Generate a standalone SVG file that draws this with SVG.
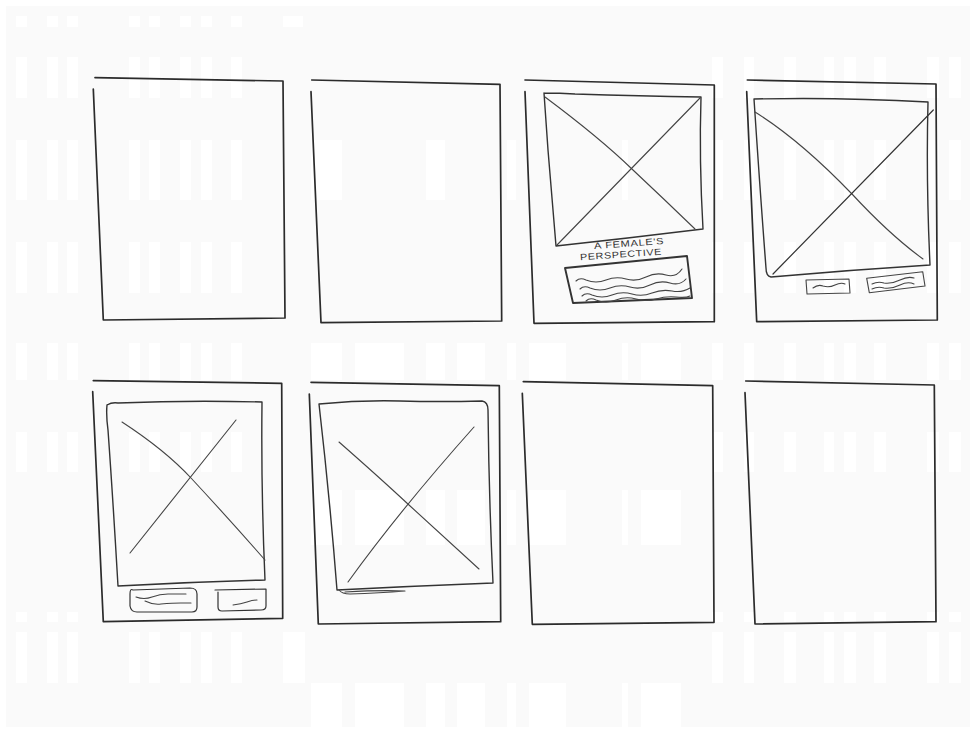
<svg xmlns="http://www.w3.org/2000/svg" width="976" height="730" viewBox="0 0 976 730">
<defs>
<style>
.bar{fill:#ffffff}
.frame{fill:none;stroke:#2b2b2b;stroke-width:1.7;stroke-linecap:round;stroke-linejoin:round}
.sk{fill:none;stroke:#333;stroke-width:1.4;stroke-linecap:round;stroke-linejoin:round}
.thin{fill:none;stroke:#444;stroke-width:1.1;stroke-linecap:round;stroke-linejoin:round}
.hand{font-family:"Liberation Sans",Arial,sans-serif;font-size:9px;fill:#333;letter-spacing:0.5px}
</style>
</defs>
<rect x="0" y="0" width="976" height="730" fill="#ffffff"/>
<rect x="6" y="6" width="964" height="721" fill="#fafafa"/>
<g id="background">
<g transform="translate(0,16)">
<rect class="bar" x="16" y="0" width="11" height="11"/><rect class="bar" x="47" y="0" width="11" height="11"/><rect class="bar" x="67" y="0" width="11" height="11"/><rect class="bar" x="129" y="0" width="11" height="11"/><rect class="bar" x="149" y="0" width="11" height="11"/><rect class="bar" x="180" y="0" width="11" height="11"/><rect class="bar" x="201" y="0" width="11" height="11"/><rect class="bar" x="231" y="0" width="11" height="11"/><rect class="bar" x="283" y="0" width="20" height="11"/>
</g>
<g transform="translate(0,57)">
<rect class="bar" x="16" y="0" width="11" height="41"/><rect class="bar" x="47" y="0" width="11" height="41"/><rect class="bar" x="67" y="0" width="11" height="41"/><rect class="bar" x="129" y="0" width="11" height="41"/><rect class="bar" x="149" y="0" width="11" height="41"/><rect class="bar" x="180" y="0" width="11" height="41"/><rect class="bar" x="201" y="0" width="11" height="41"/><rect class="bar" x="231" y="0" width="11" height="41"/>
<rect class="bar" x="712" y="0" width="11" height="41"/><rect class="bar" x="744" y="0" width="10" height="41"/><rect class="bar" x="784" y="0" width="12" height="41"/><rect class="bar" x="824" y="0" width="10" height="41"/><rect class="bar" x="844" y="0" width="12" height="41"/><rect class="bar" x="874" y="0" width="12" height="41"/><rect class="bar" x="927" y="0" width="12" height="41"/><rect class="bar" x="949" y="0" width="12" height="41"/>
</g>
<g transform="translate(0,140)">
<rect class="bar" x="16" y="0" width="11" height="60"/><rect class="bar" x="47" y="0" width="11" height="60"/><rect class="bar" x="67" y="0" width="11" height="60"/><rect class="bar" x="129" y="0" width="11" height="60"/><rect class="bar" x="149" y="0" width="11" height="60"/><rect class="bar" x="180" y="0" width="11" height="60"/><rect class="bar" x="201" y="0" width="11" height="60"/><rect class="bar" x="231" y="0" width="11" height="60"/>
<rect class="bar" x="311" y="0" width="31" height="60"/><rect class="bar" x="426" y="0" width="19" height="60"/><rect class="bar" x="507" y="0" width="9" height="60"/><rect class="bar" x="622" y="0" width="6" height="60"/>
<rect class="bar" x="712" y="0" width="11" height="60"/><rect class="bar" x="744" y="0" width="10" height="60"/><rect class="bar" x="784" y="0" width="12" height="60"/><rect class="bar" x="824" y="0" width="10" height="60"/><rect class="bar" x="844" y="0" width="12" height="60"/><rect class="bar" x="874" y="0" width="12" height="60"/><rect class="bar" x="927" y="0" width="12" height="60"/><rect class="bar" x="949" y="0" width="12" height="60"/>
</g>
<g transform="translate(0,242)">
<rect class="bar" x="16" y="0" width="11" height="51"/><rect class="bar" x="47" y="0" width="11" height="51"/><rect class="bar" x="67" y="0" width="11" height="51"/><rect class="bar" x="129" y="0" width="11" height="51"/><rect class="bar" x="149" y="0" width="11" height="51"/><rect class="bar" x="180" y="0" width="11" height="51"/><rect class="bar" x="201" y="0" width="11" height="51"/><rect class="bar" x="231" y="0" width="11" height="51"/>
<rect class="bar" x="712" y="0" width="11" height="51"/><rect class="bar" x="744" y="0" width="10" height="51"/><rect class="bar" x="784" y="0" width="12" height="51"/><rect class="bar" x="824" y="0" width="10" height="51"/><rect class="bar" x="844" y="0" width="12" height="51"/><rect class="bar" x="874" y="0" width="12" height="51"/><rect class="bar" x="927" y="0" width="12" height="51"/><rect class="bar" x="949" y="0" width="12" height="51"/>
</g>
<g transform="translate(0,343)">
<rect class="bar" x="16" y="0" width="11" height="37"/><rect class="bar" x="47" y="0" width="11" height="37"/><rect class="bar" x="67" y="0" width="11" height="37"/><rect class="bar" x="129" y="0" width="11" height="37"/><rect class="bar" x="149" y="0" width="11" height="37"/><rect class="bar" x="180" y="0" width="11" height="37"/><rect class="bar" x="201" y="0" width="11" height="37"/><rect class="bar" x="231" y="0" width="11" height="37"/>
<rect class="bar" x="311" y="0" width="31" height="37"/><rect class="bar" x="355" y="0" width="49" height="37"/><rect class="bar" x="426" y="0" width="19" height="37"/><rect class="bar" x="457" y="0" width="28" height="37"/><rect class="bar" x="507" y="0" width="9" height="37"/><rect class="bar" x="529" y="0" width="37" height="37"/><rect class="bar" x="622" y="0" width="6" height="37"/><rect class="bar" x="641" y="0" width="40" height="37"/>
<rect class="bar" x="712" y="0" width="11" height="37"/><rect class="bar" x="744" y="0" width="10" height="37"/><rect class="bar" x="784" y="0" width="12" height="37"/><rect class="bar" x="824" y="0" width="10" height="37"/><rect class="bar" x="844" y="0" width="12" height="37"/><rect class="bar" x="874" y="0" width="12" height="37"/><rect class="bar" x="927" y="0" width="12" height="37"/><rect class="bar" x="949" y="0" width="12" height="37"/>
</g>
<g transform="translate(0,432)">
<rect class="bar" x="16" y="0" width="11" height="40"/><rect class="bar" x="47" y="0" width="11" height="40"/><rect class="bar" x="67" y="0" width="11" height="40"/><rect class="bar" x="129" y="0" width="11" height="40"/><rect class="bar" x="149" y="0" width="11" height="40"/><rect class="bar" x="180" y="0" width="11" height="40"/><rect class="bar" x="201" y="0" width="11" height="40"/><rect class="bar" x="231" y="0" width="11" height="40"/>
<rect class="bar" x="712" y="0" width="11" height="40"/><rect class="bar" x="744" y="0" width="10" height="40"/><rect class="bar" x="784" y="0" width="12" height="40"/><rect class="bar" x="824" y="0" width="10" height="40"/><rect class="bar" x="844" y="0" width="12" height="40"/><rect class="bar" x="874" y="0" width="12" height="40"/><rect class="bar" x="927" y="0" width="12" height="40"/><rect class="bar" x="949" y="0" width="12" height="40"/>
</g>
<g transform="translate(0,490)">
<rect class="bar" x="311" y="0" width="31" height="55"/><rect class="bar" x="355" y="0" width="49" height="55"/><rect class="bar" x="426" y="0" width="19" height="55"/><rect class="bar" x="457" y="0" width="28" height="55"/><rect class="bar" x="507" y="0" width="9" height="55"/><rect class="bar" x="529" y="0" width="37" height="55"/><rect class="bar" x="622" y="0" width="6" height="55"/><rect class="bar" x="641" y="0" width="40" height="55"/>
</g>
<g transform="translate(0,612)">
<rect class="bar" x="16" y="0" width="11" height="10"/><rect class="bar" x="47" y="0" width="11" height="10"/><rect class="bar" x="67" y="0" width="11" height="10"/><rect class="bar" x="712" y="0" width="11" height="10"/><rect class="bar" x="744" y="0" width="10" height="10"/><rect class="bar" x="784" y="0" width="12" height="10"/><rect class="bar" x="824" y="0" width="10" height="10"/><rect class="bar" x="844" y="0" width="12" height="10"/><rect class="bar" x="874" y="0" width="12" height="10"/><rect class="bar" x="927" y="0" width="12" height="10"/><rect class="bar" x="949" y="0" width="12" height="10"/>
</g>
<g transform="translate(0,632)">
<rect class="bar" x="16" y="0" width="11" height="51"/><rect class="bar" x="47" y="0" width="11" height="51"/><rect class="bar" x="67" y="0" width="11" height="51"/><rect class="bar" x="129" y="0" width="11" height="51"/><rect class="bar" x="149" y="0" width="11" height="51"/><rect class="bar" x="180" y="0" width="11" height="51"/><rect class="bar" x="201" y="0" width="11" height="51"/><rect class="bar" x="231" y="0" width="11" height="51"/><rect class="bar" x="283" y="0" width="22" height="51"/>
<rect class="bar" x="712" y="0" width="11" height="51"/><rect class="bar" x="744" y="0" width="10" height="51"/><rect class="bar" x="784" y="0" width="12" height="51"/><rect class="bar" x="824" y="0" width="10" height="51"/><rect class="bar" x="844" y="0" width="12" height="51"/><rect class="bar" x="874" y="0" width="12" height="51"/><rect class="bar" x="927" y="0" width="12" height="51"/><rect class="bar" x="949" y="0" width="12" height="51"/>
</g>
<g transform="translate(0,683)">
<rect class="bar" x="311" y="0" width="31" height="44"/><rect class="bar" x="355" y="0" width="49" height="44"/><rect class="bar" x="426" y="0" width="19" height="44"/><rect class="bar" x="457" y="0" width="28" height="44"/><rect class="bar" x="507" y="0" width="9" height="44"/><rect class="bar" x="529" y="0" width="37" height="44"/><rect class="bar" x="622" y="0" width="6" height="44"/><rect class="bar" x="641" y="0" width="40" height="44"/>
</g>
</g>

<g id="frame1">
<path class="frame" d="M95,77.7 L283,81 L285,318 L103.3,320 L93.3,89"/>
</g>

<g id="frame2">
<path class="frame" d="M311.7,80 L500,84.3 L501.7,321 L321,322.7 L311,91.7"/>
</g>

<g id="frame3">
<path class="frame" d="M525,80 L714.3,85 L714.3,321.7 L534,323.3 L525,91.7"/>
<path class="sk" d="M544,93 Q560,93 575,94 Q640,96 701,97 Q699,160 703,229 Q630,238 556,246 Q552,200 548,150 Q546,120 544,93"/>
<path class="thin" d="M545,97 Q600,138 633,170 Q665,200 695,229"/>
<path class="thin" d="M557,245 L700,98"/>
<text class="hand" x="594" y="246.5" textLength="70" lengthAdjust="spacingAndGlyphs" transform="rotate(-4 629 243)">A FEMALE'S</text>
<text class="hand" x="580" y="257.5" font-size="8" textLength="82" lengthAdjust="spacingAndGlyphs" transform="rotate(-4 621 254)">PERSPECTIVE</text>
<path class="sk" style="stroke-width:1.9" d="M565,268 L687,256 L692,298 L573,303 Z"/>
<path class="thin" d="M576,281 q4,-4 10,-1 q10,4 20,0 t20,-1 t20,-2 t20,-2 t16,-6"/>
<path class="thin" d="M580,289 q4,-4 10,-1 q10,4 20,0 t20,-1 t20,-2 t20,-2 t16,-4"/>
<path class="thin" d="M582,296 q4,-4 10,-1 q10,4 20,0 t20,-1 t20,-1 t20,-2 t18,-3"/>
<path class="thin" d="M586,301 q4,-4 10,-1 q10,4 20,0 t20,-1 t20,0 t20,-2 t14,-1"/>
</g>

<g id="frame4">
<path class="frame" d="M747.3,80 L936,84 L937.3,320 L756.7,321.7 L746.7,91.7"/>
<path class="sk" d="M754,99 Q840,97 928,102 Q926,180 930,265 Q850,270 771,277 Q766,276 766,268 Q760,190 754,99"/>
<path class="thin" d="M755,112 Q800,140 852,194 Q890,235 923,259"/>
<path class="sk" style="stroke-width:1.2" d="M773,274 L933.3,110"/>
<path class="thin" d="M806,280 L849,279 L850,293 L807,294 Z"/>
<path class="thin" d="M813,288 q5,-4 10,-2 q6,2 12,-1 t10,-1"/>
<path class="thin" d="M866.7,278.3 L922.7,271.7 L925,286 L869.3,292.7 Z"/>
<path class="thin" d="M872,284 q6,-3 12,-1 q8,1 16,-3 t14,-2"/>
<path class="thin" d="M872,289 q6,-3 12,-1 q8,1 16,-3 t14,-1"/>
</g>

<g id="frame5">
<path class="frame" d="M93.3,380.7 L281.7,383.3 L282.7,618.3 L103.3,621.7 L92.7,391.7"/>
<path class="sk" d="M107,405 Q112,402 118,403 Q190,400 262,402 Q261,490 265,580 Q190,582 118,586 Q113,500 108,430 Q106,415 107,405"/>
<path class="thin" d="M122,422 Q165,450 191,478 Q230,520 265,560"/>
<path class="thin" d="M130,553 L236,420"/>
<path class="sk" style="stroke-width:1.2" d="M133,590 Q130,588 130,594 L130,606 Q131,612 137,612 L192,612 Q197,612 197,607 L197,594 Q197,588 190,588 Z"/>
<path class="thin" d="M136,597 q8,3 16,0 q8,-3 16,-3 l18,0"/>
<path class="thin" d="M145,601 q8,4 16,3 q12,-1 20,-1 l10,0"/>
<path class="sk" style="stroke-width:1.2" d="M215,590 L266,589 L266,606 Q266,610 261,610 L222,611 Q218,611 218,607 L218,592"/>
<path class="thin" d="M233,605 q8,-1 14,-3 t10,-2"/>
</g>

<g id="frame6">
<path class="frame" d="M311,382.3 L499.3,385.7 L500.7,621.7 L318.3,624 L309.3,394"/>
<path class="sk" d="M319,404 Q360,400 400,401 Q440,402 482,401 Q488,402 488,410 Q489,500 493,583 Q415,586 337,590 Q330,500 319,404"/>
<path class="thin" d="M339,442 Q380,478 409,505 Q445,538 479,569"/>
<path class="thin" d="M348,582 Q400,510 474,427"/>
<path class="thin" d="M339,590 Q342,594 350,594 Q380,593 405,591 Q380,590 345,592"/>
</g>

<g id="frame7">
<path class="frame" d="M523.3,381.7 L712.7,385.7 L714,622.3 L532.3,624.3 L522.3,393.3"/>
</g>

<g id="frame8">
<path class="frame" d="M745.7,381 L934.3,385 L936,621.7 L755,624 L745,392.7"/>
</g>

<g id="connectors"></g>
</svg>
